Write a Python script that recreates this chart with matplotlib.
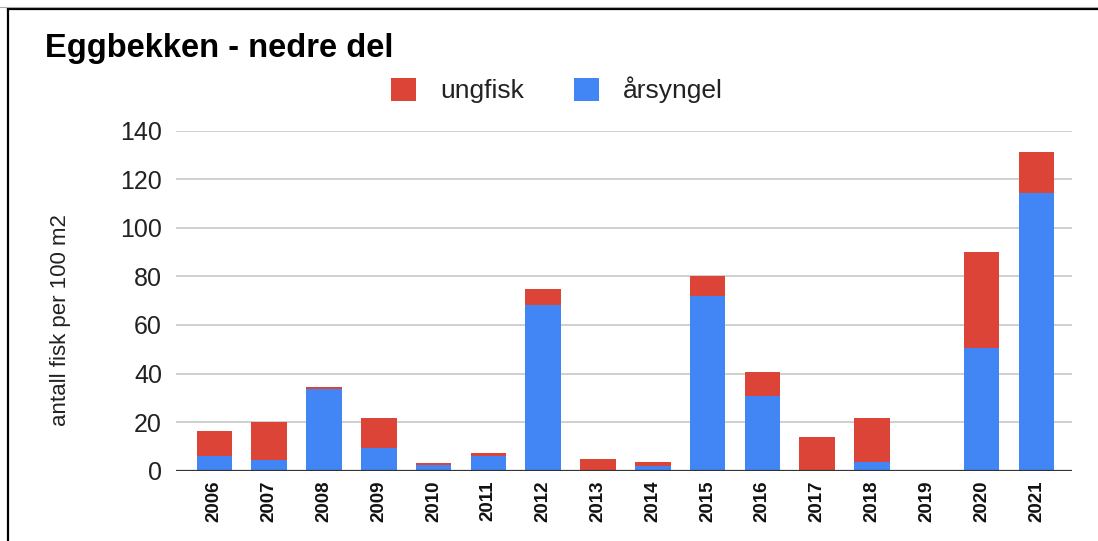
import matplotlib
matplotlib.use("Agg")
import matplotlib.pyplot as plt
from matplotlib.lines import Line2D
from matplotlib.patches import Patch

plt.rcParams['font.family'] = ['Liberation Sans', 'DejaVu Sans']

# Data: fish density per 100 m2, lower part of Eggbekken
years = ['2006', '2007', '2008', '2009', '2010', '2011', '2012', '2013',
         '2014', '2015', '2016', '2017', '2018', '2019', '2020', '2021']
arsyngel = [6.0, 4.5, 33.6, 9.5, 2.2, 5.9, 68.2, 0.0,
            2.1, 71.9, 30.7, 0.0, 3.6, 0.0, 50.4, 114.2]
ungfisk = [10.2, 15.5, 1.0, 12.0, 0.8, 1.4, 6.6, 5.0,
           1.5, 8.3, 9.8, 13.9, 17.9, 0.0, 39.6, 17.2]
yticks = [0, 20, 40, 60, 80, 100, 120, 140]

RED = '#DB4437'
BLUE = '#4285F4'

W, H = 1098, 541
fig = plt.figure(figsize=(W / 100, H / 100), dpi=100)
fig.patch.set_facecolor('white')

ax = fig.add_axes([176 / W, 1 - 470.7 / H, (1072 - 176) / W, (470.7 - 130.7) / H])

x = list(range(len(years)))
ax.bar(x, arsyngel, width=0.65, color=BLUE, zorder=3, linewidth=0)
ax.bar(x, ungfisk, width=0.65, bottom=arsyngel, color=RED, zorder=3, linewidth=0)

ax.set_xlim(-0.70, 15.65)
ax.set_ylim(0, 140)
ax.set_yticks(yticks)
ax.set_yticklabels([str(v) for v in yticks], fontsize=18, color='#222222')
ax.set_xticks(x)
ax.set_xticklabels(years, rotation=90, fontsize=13.5, fontweight='bold', color='#111111')
ax.tick_params(axis='y', length=0, pad=10)
ax.tick_params(axis='x', length=0, pad=7)

ax.grid(axis='y', color='#cccccc', linewidth=1.3, zorder=0)
ax.set_axisbelow(True)
for s in ax.spines.values():
    s.set_visible(False)
ax.axhline(0, color='#333333', linewidth=1.6, zorder=4)

ax.set_ylabel('antall fisk per 100 m2', fontsize=16, color='#222222', labelpad=0)
ax.yaxis.set_label_coords(71 / W, 1 - 320 / H, transform=fig.transFigure)

fig.text(45 / W, 1 - 48 / H, 'Eggbekken - nedre del', fontsize=23.5,
         fontweight='bold', color='black', va='center', ha='left')

handles = [Patch(facecolor=RED, edgecolor='none', label='ungfisk'),
           Patch(facecolor=BLUE, edgecolor='none', label='årsyngel')]
fig.legend(handles=handles, loc='center', bbox_to_anchor=(557 / W, 1 - 90 / H),
           ncol=2, frameon=False, fontsize=19, handlelength=0.95,
           handleheight=0.95, handletextpad=0.9, columnspacing=1.9,
           labelcolor='#222222')

# Outer frame lines
fig.add_artist(Line2D([8 / W, 8 / W], [0, 1 - 9 / H], transform=fig.transFigure,
                      color='black', linewidth=1.6))
fig.add_artist(Line2D([8 / W, 1], [1 - 9 / H, 1 - 9 / H], transform=fig.transFigure,
                      color='black', linewidth=1.6))
fig.add_artist(Line2D([0, 1], [1 - 7 / H, 1 - 7 / H], transform=fig.transFigure,
                      color='#aaaaaa', linewidth=0.8))

fig.savefig('out.png', dpi=100, facecolor='white')
